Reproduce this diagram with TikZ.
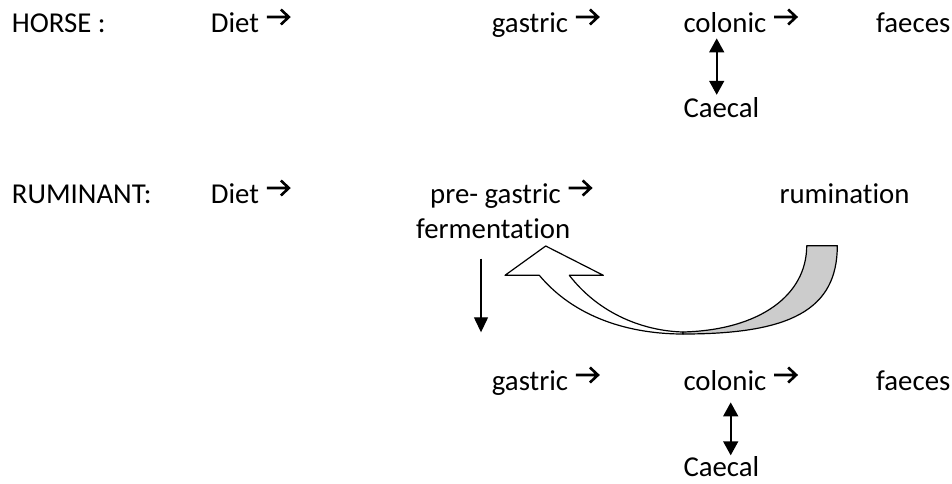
\documentclass[tikz,border=0pt]{standalone}
\usepackage{fontspec}
\usepackage{xcolor}
\setmainfont{Carlito}[Ligatures=NoCommon]
\usetikzlibrary{arrows.meta}

\newcommand{\bodysize}{\fontsize{28.8pt}{34pt}\selectfont}
% open chevron arrow, as in the typed text
\newcommand{\textarr}{\tikz[baseline=-15pt, line width=2.6pt, miter limit=4]
  \draw (1pt,0pt) -- (23pt,0pt) (15pt,7.5pt) -- (23pt,0pt) -- (15pt,-7.5pt);}
\definecolor{ribbongray}{HTML}{CCCCCC}

\tikzset{
  lbl/.style={anchor=base west, inner sep=0pt, font=\bodysize},
  dblarr/.style={line width=1.6pt, {Triangle[width=15pt,length=14pt]}-{Triangle[width=15pt,length=14pt]}},
  downarr/.style={line width=1.3pt, -{Triangle[width=14pt,length=15pt]}},
  ribbon/.style={draw=black, line width=1.2pt, line join=round}
}

\begin{document}
\begin{tikzpicture}[x=1pt, y=-1pt]
  \useasboundingbox (0,0) rectangle (952,483);

  % Horse row
  \node[lbl] (horse)    at (11.7,32)   {HORSE :};
  \node[lbl] (hdiet)    at (210.7,32)  {Diet \textarr};
  \node[lbl] (hgastric) at (491.7,32)  {gastric \textarr};
  \node[lbl] (hcolonic) at (683.3,32)  {colonic \textarr};
  \node[lbl] (hfaeces)  at (876,32)    {faeces};
  \node[lbl] (hcaecal)  at (683.3,117) {Caecal};

  % Ruminant row
  \node[lbl] (rum)         at (11.7,203)  {RUMINANT:};
  \node[lbl] (rdiet)       at (210.7,203) {Diet \textarr};
  \node[lbl] (rpregastric) at (430,203)   {pre- gastric \textarr};
  \node[lbl] (rferment)    at (416,238.3) {fermentation};
  \node[lbl] (rrumination) at (779.3,203) {rumination};
  \node[lbl] (rgastric)    at (491.7,390) {gastric \textarr};
  \node[lbl] (rcolonic)    at (683.3,390) {colonic \textarr};
  \node[lbl] (rfaeces)     at (876,390)   {faeces};
  \node[lbl] (rcaecal)     at (683.3,476.5) {Caecal};

  % colonic <-> Caecal
  \draw[dblarr] ([xshift=33.4pt,yshift=-6pt]hcolonic.south west) -- ([xshift=33.4pt,yshift=2pt]hcaecal.north west);
  \draw[dblarr] ([xshift=47.4pt,yshift=-12pt]rcolonic.south west) -- ([xshift=47.4pt,yshift=1pt]rcaecal.north west);

  % fermentation down to gastric
  \coordinate (fdown) at (481,332.3);
  \draw[downarr] ([xshift=65pt,yshift=-20pt]rferment.south west) -- (fdown);

  % Rumination return arrow (curled ribbon)
  \coordinate (tip) at (545.7,246);
  \coordinate (hl)  at (505,275.3);
  \coordinate (hr)  at (603.3,275.3);
  \coordinate (sl)  at (539.3,275.3);
  \coordinate (sr)  at (569.3,275.3);
  \coordinate (bo)  at (683,334);
  \coordinate (bi)  at (683,332);
  \coordinate (ro)  at (837.3,245.7);
  \coordinate (ri)  at (806.7,245.7);
  \filldraw[ribbon, fill=white] (tip) -- (hr) -- (sr)
    .. controls (600,315) and (645,331) .. (bi)
    -- (bo) .. controls (630,334) and (575,318) .. (sl)
    -- (hl) -- cycle;
  \filldraw[ribbon, fill=ribbongray] (bo)
    .. controls (790,334) and (837.3,310) .. (ro)
    -- (ri) .. controls (806.7,295) and (760,330) .. (bi) -- cycle;
\end{tikzpicture}
\end{document}
